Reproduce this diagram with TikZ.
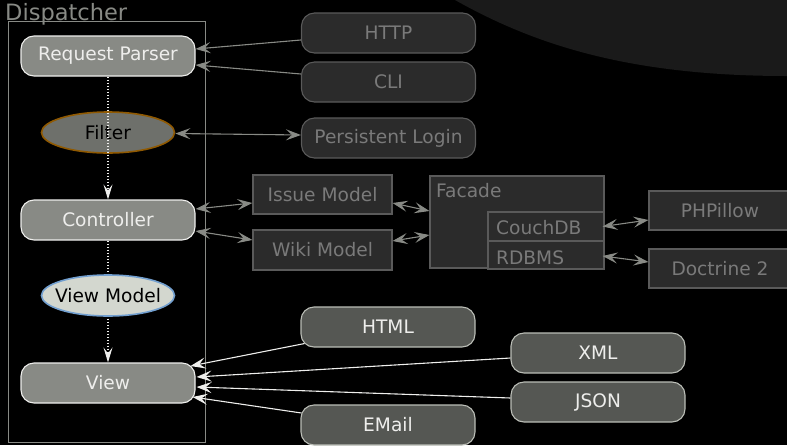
\documentclass[tikz,border=0pt]{standalone}
\usepackage{fontspec}
\setmainfont{DejaVu Sans}
\usetikzlibrary{arrows.meta,shapes.geometric,calc}
\definecolor{alu}{HTML}{888A85}
\definecolor{lightc}{HTML}{EEEEEC}
\definecolor{filterfill}{HTML}{6E706B}
\definecolor{brownc}{HTML}{8F5902}
\definecolor{vmfill}{HTML}{D3D7CF}
\definecolor{bluec}{HTML}{729FCF}
\definecolor{darkfill}{HTML}{2B2B2B}
\definecolor{darkline}{HTML}{5A5A5A}
\definecolor{darktext}{HTML}{7A7A7A}
\definecolor{midfill}{HTML}{555753}
\definecolor{midline}{HTML}{BABDB6}
\definecolor{blobc}{HTML}{1A1A1A}
\newcommand\lblfont{\fontsize{18.6}{22}\selectfont}
\begin{document}
\begin{tikzpicture}[x=1pt,y=-1pt,
  core/.style={rectangle, rounded corners=13pt, minimum width=174pt, minimum height=40pt,
    fill=alu, draw=lightc, line width=1.1pt, text=lightc, font=\lblfont, inner sep=0pt},
  inbox/.style={rectangle, rounded corners=13pt, minimum width=174pt, minimum height=40pt,
    fill=darkfill, draw=darkline, line width=1.1pt, text=darktext, font=\lblfont, inner sep=0pt},
  modelbox/.style={rectangle, minimum width=139pt, minimum height=39pt,
    fill=darkfill, draw=darkline, line width=1.1pt, text=darktext, font=\lblfont, inner sep=0pt},
  outbox/.style={rectangle, rounded corners=13pt, minimum width=174pt, minimum height=40pt,
    fill=midfill, draw=midline, line width=1.1pt, text=lightc, font=\lblfont, inner sep=0pt},
  oval/.style={ellipse, minimum width=133pt, minimum height=41pt, inner sep=0pt, line width=1.6pt},
  tip/.style={Stealth[length=15pt,width=11pt,inset=6pt]},
  grayarrow/.style={draw=alu, line width=1.1pt, -{Stealth[length=15pt,width=11pt,inset=6pt]}},
  graydouble/.style={draw=alu, line width=1.1pt, {Stealth[length=15pt,width=11pt,inset=6pt]}-{Stealth[length=15pt,width=11pt,inset=6pt]}},
  whitearrow/.style={draw=lightc, line width=1.1pt, -{Stealth[length=15pt,width=11pt,inset=6pt]}},
  flowarrow/.style={draw=lightc, line width=1.1pt, dash pattern=on 1pt off 2pt,
    -{Stealth[length=15pt,width=9pt,inset=6pt]}},
  plaintext/.style={inner sep=0pt, font=\lblfont, text=darktext}
]
\useasboundingbox (0,0) rectangle (787,445);
\fill[black] (0,0) rectangle (787,445);
\fill[blobc] (455,0) .. controls (535,45) and (630,76) .. (787,76) -- (787,0) -- cycle;

% dispatcher frame
\draw[alu, line width=1pt] (8,21) rectangle (205,442);
\node[anchor=base west, inner sep=0pt, text=alu, font=\fontsize{22.5}{26}\selectfont] (displabel) at (5,20.5) {Dispatcher};

% core nodes
\node[core] (rp) at (108,56) {Request Parser};
\node[core] (ctrl) at (108,220) {Controller};
\node[core] (view) at (108,383) {View};
\node[oval, fill=filterfill, draw=brownc,
  label={[text=black, font=\lblfont, inner sep=0pt]center:Filter}] (filter) at (108,132.5) {};

\draw[flowarrow] (rp.south) -- (ctrl.north);
\draw[flowarrow] (ctrl.south) -- (view.north);

\node[oval, fill=vmfill, draw=bluec,
  label={[text=black, font=\lblfont, inner sep=0pt]center:View Model}] (vm) at (108,295.5) {};

% input nodes
\node[inbox] (http) at (388.5,33) {HTTP};
\node[inbox] (cli) at (388.5,82) {CLI};
\node[inbox] (plogin) at (388.5,138) {Persistent Login};

\draw[grayarrow] ($(http.west)+(0,7)$) -- ($(rp.east)+(0,-7)$);
\draw[grayarrow] ($(cli.west)+(0,-8)$) -- ($(rp.east)+(0,9)$);
\draw[graydouble] ($(filter.east)+(0,1)$) -- ($(plogin.west)+(0,-3)$);

% models
\node[modelbox] (issue) at (322.5,194.5) {Issue Model};
\node[modelbox, minimum height=40pt] (wiki) at (322.5,250) {Wiki Model};
\node[rectangle, minimum width=174pt, minimum height=92pt, fill=darkfill, draw=darkline,
  line width=1.1pt, inner sep=0pt] (facade) at (517,222) {};
\node[plaintext, anchor=base west] (facadelabel) at (436,197) {Facade};
\node[rectangle, minimum width=116pt, minimum height=29pt, fill=darkfill, draw=darkline,
  line width=1.1pt, inner sep=0pt] (couch) at (546,226.5) {};
\node[plaintext, anchor=base west] (couchlabel) at (496,234) {CouchDB};
\node[rectangle, minimum width=116pt, minimum height=28pt, fill=darkfill, draw=darkline,
  line width=1.1pt, inner sep=0pt] (rdbms) at (546,255) {};
\node[plaintext, anchor=base west] (rdbmslabel) at (496,264) {RDBMS};
\node[modelbox, minimum width=142pt] (php) at (720,210.5) {PHPillow};
\node[modelbox, minimum width=142pt] (doctrine) at (720,268.5) {Doctrine 2};

\draw[graydouble] ($(ctrl.east)+(0,-11)$) -- ($(issue.west)+(0,8.5)$);
\draw[graydouble] ($(ctrl.east)+(0,11)$) -- ($(wiki.west)+(0,-10)$);
\draw[graydouble] ($(issue.east)+(0,8.5)$) -- ($(facade.west)+(0,-11)$);
\draw[graydouble] ($(wiki.east)+(0,-9)$) -- ($(facade.west)+(0,13)$);
\draw[graydouble] ($(couch.east)+(-2,0)$) -- ($(php.west)+(0,9.5)$);
\draw[graydouble] ($(rdbms.east)+(-2,1)$) -- ($(doctrine.west)+(0,-6.5)$);

% output nodes
\node[outbox] (html) at (388,327) {HTML};
\node[outbox] (xml) at (598,353) {XML};
\node[outbox] (json) at (598,402) {JSON};
\node[outbox] (email) at (388,425) {EMail};

\draw[whitearrow] ($(html.south west)+(4,-4)$) -- ($(view.east)+(-5,-17)$);
\draw[whitearrow] ($(xml.west)+(0,5)$) -- ($(view.east)+(1,-6)$);
\draw[whitearrow] ($(json.west)+(0,-4)$) -- ($(view.east)+(1,4)$);
\draw[whitearrow] ($(email.west)+(1,-12)$) -- ($(view.east)+(-3,14)$);
\end{tikzpicture}
\end{document}
